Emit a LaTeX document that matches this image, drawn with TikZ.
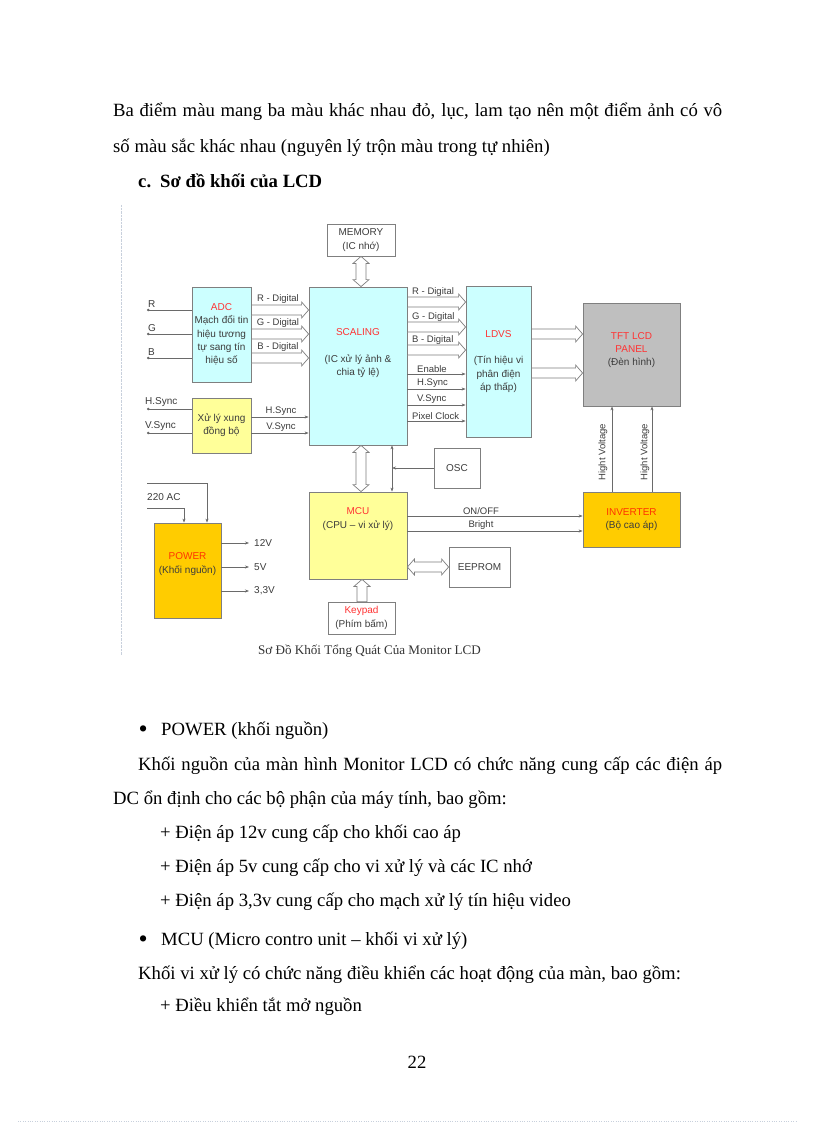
\documentclass[tikz,border=0pt]{standalone}
\usepackage{fontspec}
\setmainfont{Liberation Serif}
\setsansfont{Liberation Sans}
\usetikzlibrary{calc, arrows.meta}
\definecolor{boxline}{HTML}{7F7F7F}
\definecolor{sigline}{HTML}{6A6A6A}
\definecolor{diagtext}{HTML}{3C3C3C}
\definecolor{cyanfill}{HTML}{CCFFFF}
\definecolor{paleyellow}{HTML}{FFFF99}
\definecolor{goldfill}{HTML}{FFCC00}
\definecolor{panelgray}{HTML}{BFBFBF}
\definecolor{titlered}{HTML}{FF3333}
\definecolor{titleorange}{HTML}{FF3300}
\definecolor{gridline}{HTML}{C8D0DC}
\newcommand\bodyfont{\rmfamily\fontsize{18.7}{22}\selectfont}
\newcommand\boxfont{\sffamily\fontsize{10}{13.3}\selectfont}
\newcommand\lblfont{\sffamily\fontsize{9.5}{11}\selectfont}
\newcommand\fatw{5pt}
\newcommand\fath{8pt}
\newcommand\fatl{7pt}

\begin{document}
\begin{tikzpicture}[x=1pt, y=-1pt,
				box/.style={draw=boxline, line width=0.8pt, inner sep=0pt, align=center, font=\boxfont, text=diagtext},
				boxtext/.style={font=\boxfont, text=diagtext, align=center, inner sep=0pt},
				lbl/.style={font=\lblfont, text=diagtext, inner sep=0pt},
				inlbl/.style={font=\boxfont, text=diagtext, inner sep=0pt},
				sig/.style={draw=sigline, line width=0.7pt, -{Stealth[length=4pt, width=3pt]}},
				feed/.style={draw=sigline, line width=0.7pt, {Circle[length=2.4pt]}-},
				body/.style={font=\bodyfont, anchor=base west, inner sep=0pt},
				bullet/.style={font=\rmfamily\fontsize{26}{26}\selectfont, anchor=base west, inner sep=0pt},
				fat/.style={draw=boxline, fill=white, line width=0.7pt, to path={
								-- ($(\tikztostart)!\fatw!90:(\tikztotarget)$)
								-- ($($(\tikztotarget)!\fatl!(\tikztostart)$)!\fatw!90:(\tikztotarget)$)
								-- ($($(\tikztotarget)!\fatl!(\tikztostart)$)!\fath!90:(\tikztotarget)$)
								-- (\tikztotarget)
								-- ($($(\tikztotarget)!\fatl!(\tikztostart)$)!\fath!-90:(\tikztotarget)$)
								-- ($($(\tikztotarget)!\fatl!(\tikztostart)$)!\fatw!-90:(\tikztotarget)$)
								-- ($(\tikztostart)!\fatw!-90:(\tikztotarget)$)
								-- cycle}},
				fatboth/.style={draw=boxline, fill=white, line width=0.7pt, to path={
								-- ($($(\tikztostart)!\fatl!(\tikztotarget)$)!\fath!90:(\tikztotarget)$)
								-- ($($(\tikztostart)!\fatl!(\tikztotarget)$)!\fatw!90:(\tikztotarget)$)
								-- ($($(\tikztotarget)!\fatl!(\tikztostart)$)!\fatw!90:(\tikztotarget)$)
								-- ($($(\tikztotarget)!\fatl!(\tikztostart)$)!\fath!90:(\tikztotarget)$)
								-- (\tikztotarget)
								-- ($($(\tikztotarget)!\fatl!(\tikztostart)$)!\fath!-90:(\tikztotarget)$)
								-- ($($(\tikztotarget)!\fatl!(\tikztostart)$)!\fatw!-90:(\tikztotarget)$)
								-- ($($(\tikztostart)!\fatl!(\tikztotarget)$)!\fatw!-90:(\tikztotarget)$)
								-- ($($(\tikztostart)!\fatl!(\tikztotarget)$)!\fath!-90:(\tikztotarget)$)
								-- cycle}}
			]
			\fill[white] (0,0) rectangle (816,1123);
			\useasboundingbox (0,0) rectangle (816,1123);

			% Text above
			\node[body] (p1) at (113,117) {\makebox[609pt][s]{Ba điểm màu mang ba màu khác nhau đỏ, lục, lam tạo nên một điểm ảnh có vô}};
			\node[body] (p2) at (113,153) {số màu sắc khác nhau (nguyên lý trộn màu trong tự nhiên)};
			\node[body, font=\bodyfont\bfseries] (sec) at (138,188) {c.\hspace{9pt}Sơ đồ khối của LCD};

			% Frame marks
			\draw[gridline, densely dotted] (121,205) -- (121,655);
			\draw[gridline, dotted] (18,1121) -- (796,1121);

			% Blocks
			\node[box, fill=white, minimum width=68pt, minimum height=32pt] (memory) at (361,240) {MEMORY\\(IC nhớ)};
			\node[box, fill=cyanfill, minimum width=59pt, minimum height=95pt] (adc) at (221.5,334.5) {\textcolor{titlered}{ADC}\\Mạch đổi tin\\hiệu tương\\tự sang tín\\hiệu số};
			\node[box, fill=paleyellow, minimum width=59pt, minimum height=55pt] (sync) at (221.5,425.5) {Xử lý xung\\đồng bộ};
			\node[box, fill=cyanfill, minimum width=98pt, minimum height=158pt] (scaling) at (358,366) {};
			\node[boxtext] at (358,353) {\textcolor{titlered}{SCALING}\\[13.3pt](IC xử lý ảnh \&\\chia tỷ lệ)};
			\node[box, fill=cyanfill, minimum width=65pt, minimum height=151pt] (ldvs) at (498.5,361.5) {\textcolor{titlered}{LDVS}\\[13.3pt](Tín hiệu vi\\phân điện\\áp thấp)};
			\node[box, fill=panelgray, minimum width=97pt, minimum height=103pt] (tft) at (631.5,354.5) {};
			\node[boxtext] at (631.5,350) {\textcolor{titlered}{TFT LCD}\\\textcolor{titlered}{PANEL}\\(Đèn hình)};
			\node[box, fill=white, minimum width=46pt, minimum height=40pt] (osc) at (457,468) {OSC};
			\node[box, fill=paleyellow, minimum width=98pt, minimum height=87pt] (mcu) at (358,535.5) {};
			\node[boxtext] at (358,519) {\textcolor{titlered}{MCU}\\(CPU – vi xử lý)};
			\node[box, fill=goldfill, minimum width=97pt, minimum height=55pt] (inverter) at (631.5,519.5) {\textcolor{titleorange}{INVERTER}\\(Bộ cao áp)};
			\node[box, fill=goldfill, minimum width=67pt, minimum height=95pt] (power) at (187.5,570.5) {};
			\node[boxtext] at (187.5,564) {\textcolor{titleorange}{POWER}\\(Khối nguồn)};
			\node[box, fill=white, minimum width=61pt, minimum height=40pt] (eeprom) at (479.5,567) {EEPROM};
			\node[box, fill=white, minimum width=67pt, minimum height=32pt] (keypad) at (361.5,618) {\textcolor{titlered}{Keypad}\\(Phím bấm)};

			% Memory bus
			\draw[fatboth] (memory.south) to (memory.south |- scaling.north);

			% Analog inputs
			\foreach \y/\t in {310/R, 334/G, 358/B} {
					\coordinate (in\t) at (147,\y);
					\draw[feed] (in\t) -- (in\t -| adc.west);
					\node[inlbl, anchor=south west] at ($(in\t)+(1,-2)$) {\t};
					\draw[fat] (adc.east |- 0,\y) to (scaling.west |- 0,\y);
					\node[lbl, anchor=south] at (278,\y-6) {\t\ - Digital};
				}

			% Sync inputs
			\foreach \y/\t in {409/H, 433/V} {
					\coordinate (in\t) at (147,\y);
					\draw[feed] (in\t) -- (in\t -| sync.west);
					\node[inlbl, anchor=south west] at ($(in\t)+(-2,-2)$) {\t.Sync};
				}
			\foreach \y/\t in {417/H, 433/V} {
					\draw[sig] (sync.east |- 0,\y) -- (scaling.west |- 0,\y);
					\node[lbl, anchor=south] at (281,\y-1.5) {\t.Sync};
				}

			% Scaling to LDVS
			\foreach \y/\t in {302/R, 327/G, 350/B} {
					\draw[fat] (scaling.east |- 0,\y) to (ldvs.west |- 0,\y);
					\node[lbl, anchor=south west] at (412,\y-5) {\t\ - Digital};
				}
			\foreach \y/\x/\t in {374/417/Enable, 389/417/H.Sync, 405/417/V.Sync, 421/412/Pixel Clock} {
					\draw[sig] (scaling.east |- 0,\y) -- (ldvs.west |- 0,\y);
					\node[lbl, anchor=south west] at (\x,\y-1.5) {\t};
				}

			% LDVS to panel
			\foreach \y in {334, 373} {
					\draw[fat] (ldvs.east |- 0,\y) to (tft.west |- 0,\y);
				}

			% Inverter to panel
			\foreach \x/\lx in {612/603, 652/645} {
					\draw[sig] (inverter.north -| \x,0) -- (tft.south -| \x,0);
					\node[lbl, rotate=90] at (\lx,452) {Hight Voltage};
				}

			% Clock
			\coordinate (jn) at (392,468);
			\draw[sig] (osc.west) -- (jn);
			\draw[sig] (jn) -- (jn |- scaling.south);
			\draw[sig] (jn) -- (jn |- mcu.north);

			% MCU links
			\draw[fatboth] (scaling.south -| 361,0) to (mcu.north -| 361,0);
			\draw[sig] (mcu.east |- 0,516) -- (inverter.west |- 0,516);
			\node[lbl, anchor=south] at (481,514.5) {ON/OFF};
			\draw[sig] (mcu.east |- 0,531) -- (inverter.west |- 0,531);
			\node[lbl, anchor=south] at (481,529.5) {Bright};
			\draw[fatboth] (mcu.east |- eeprom.west) to (eeprom.west);
			\draw[fat] (keypad.north -| 362,0) to (mcu.south -| 362,0);

			% Power
			\coordinate (ac1) at (147,483);
			\coordinate (ac2) at (147,508);
			\draw[sig] (ac1) -| (power.north -| 207,0);
			\draw[sig] (ac2) -| (power.north -| 184,0);
			\node[inlbl, anchor=west] at (147,497) {220 AC};
			\foreach \y/\t in {543/12V, 567/5V, 591/{3,3V}} {
					\coordinate (out\y) at (249,\y);
					\draw[sig] (power.east |- 0,\y) -- (out\y);
					\node[inlbl, anchor=west] at (254,\y) {\t};
				}

			% Caption
			\node[font=\rmfamily\fontsize{13.1}{15}\selectfont, text=black!80] (cap) at (369.5,651) {Sơ Đồ Khối Tổng Quát Của Monitor LCD};

			% Text below
			\node[bullet] at (138.5,737) {•};
			\node[body] (pw) at (161,735) {POWER (khối nguồn)};
			\node[body] (k1) at (138,770) {\makebox[584pt][s]{Khối nguồn của màn hình Monitor LCD có chức năng cung cấp các điện áp}};
			\node[body] (k2) at (113,804) {DC ổn định cho các bộ phận của máy tính, bao gồm:};
			\node[body] (v12) at (160,838) {+ Điện áp 12v cung cấp cho khối cao áp};
			\node[body] (v5) at (160,872) {+ Điện áp 5v cung cấp cho vi xử lý và các IC nhớ};
			\node[body] (v33) at (160,906) {+ Điện áp 3,3v cung cấp cho mạch xử lý tín hiệu video};
			\node[bullet] at (138.5,947) {•};
			\node[body] (mc) at (161,945) {MCU (Micro contro unit – khối vi xử lý)};
			\node[body] (m1) at (138,979) {Khối vi xử lý có chức năng điều khiển các hoạt động của màn, bao gồm:};
			\node[body] (m2) at (160,1011) {+ Điều khiển tắt mở nguồn};
			\node[font=\bodyfont, anchor=base] (pg) at (417,1068) {22};
		\end{tikzpicture}
\end{document}
